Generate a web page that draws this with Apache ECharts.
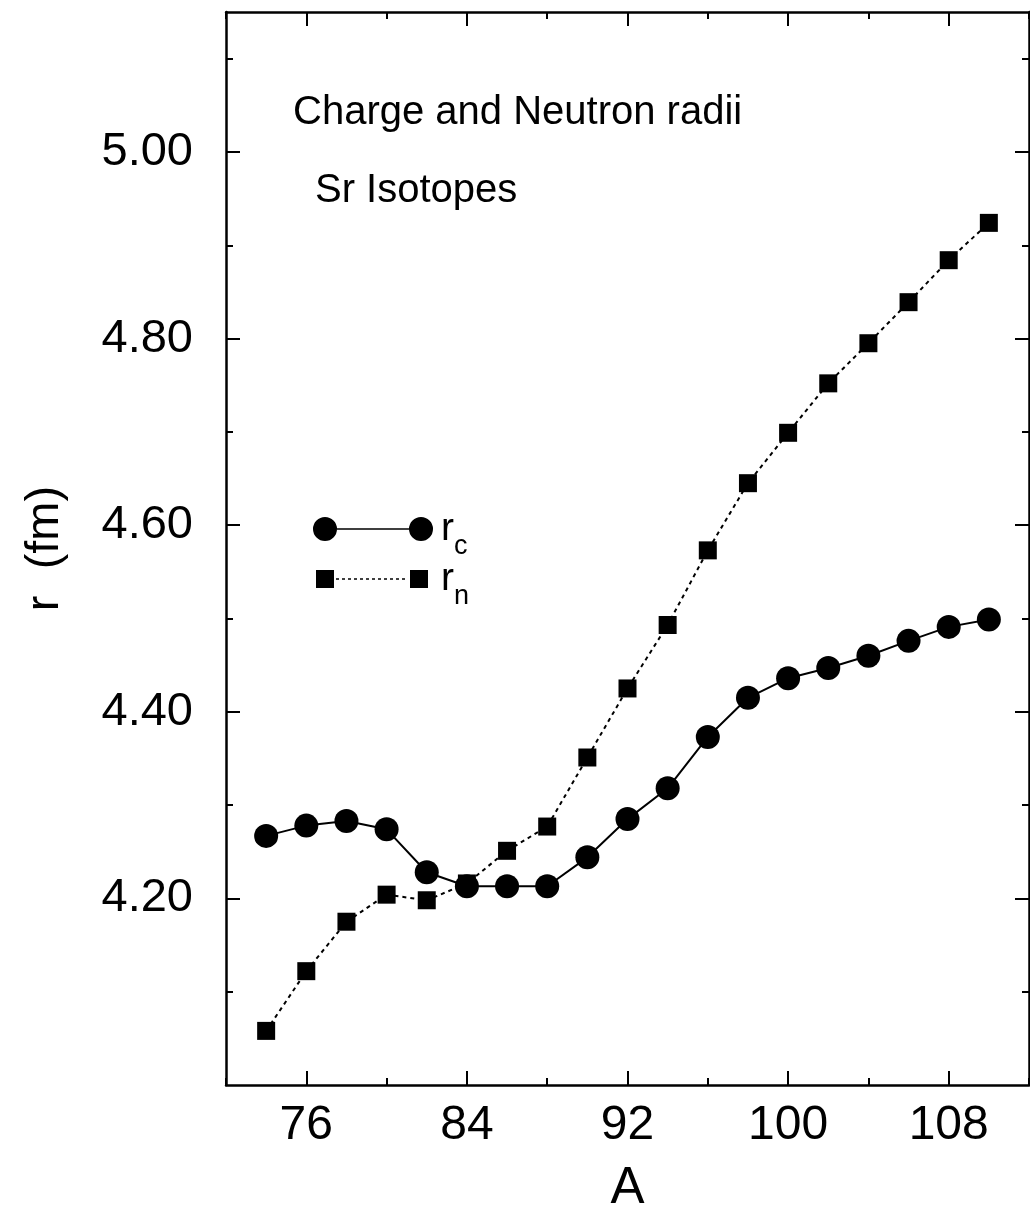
<!DOCTYPE html>
<html><head><meta charset="utf-8">
<script src="https://cdn.jsdelivr.net/npm/echarts@6/dist/echarts.min.js"></script>
<style>html,body{margin:0;padding:0;background:#fff}#c{width:1030px;height:1214px}</style>
</head><body><div id="c"></div>
<script>
// ---- data ----
const massNumbers = [74, 76, 78, 80, 82, 84, 86, 88, 90, 92, 94, 96, 98, 100, 102, 104, 106, 108, 110];
const chargeRadii = [4.267, 4.278, 4.283, 4.274, 4.228, 4.213, 4.213, 4.213, 4.244, 4.285, 4.318, 4.373, 4.415, 4.436, 4.447, 4.460, 4.476, 4.491, 4.499];
const neutronRadii = [4.058, 4.122, 4.175, 4.204, 4.198, 4.216, 4.251, 4.277, 4.351, 4.425, 4.493, 4.573, 4.645, 4.699, 4.752, 4.795, 4.839, 4.884, 4.924];
const xMajorTicks = [76, 84, 92, 100, 108];
const xMinorTicks = [72, 76, 80, 84, 88, 92, 96, 100, 104, 108, 112];
const yMajorTicks = [4.2, 4.4, 4.6, 4.8, 5.0];
const yMinorTicks = [4.1, 4.2, 4.3, 4.4, 4.5, 4.6, 4.7, 4.8, 4.9, 5.0, 5.1];
const titleLines = ['Charge and Neutron radii', 'Sr Isotopes'];
const seriesNames = ['rc', 'rn'];
const xName = 'A';
const yName = 'r  (fm)';

const FONT = '"Liberation Sans", Arial, Helvetica, sans-serif';
const BLACK = '#000';
const X_MIN = 72, X_MAX = 112, Y_MIN = 4.0, Y_MAX = 5.15;

function xAxisDef(position, ticks, len, withLine, withLabels) {
  const ax = {
    type: 'value', position: position, min: X_MIN, max: X_MAX,
    axisLine: { show: withLine, onZero: false, lineStyle: { color: BLACK, width: 2.5 } },
    axisTick: { show: true, inside: true, length: len, customValues: ticks, lineStyle: { color: BLACK, width: 2 } },
    axisLabel: { show: withLabels, customValues: ticks, fontSize: 48, color: BLACK, fontFamily: FONT, margin: 17 },
    splitLine: { show: false }
  };
  if (withLabels) {
    ax.name = xName; ax.nameLocation = 'middle'; ax.nameGap = 78;
    ax.nameTextStyle = { fontSize: 51, color: BLACK, fontFamily: FONT };
  }
  return ax;
}
function yAxisDef(position, ticks, len, withLine, withLabels) {
  const ax = {
    type: 'value', position: position, min: Y_MIN, max: Y_MAX,
    axisLine: { show: withLine, onZero: false, lineStyle: { color: BLACK, width: 2.5 } },
    axisTick: { show: true, inside: true, length: len, customValues: ticks, lineStyle: { color: BLACK, width: 2 } },
    axisLabel: { show: withLabels, customValues: ticks, fontSize: 47, color: BLACK, fontFamily: FONT, margin: 33,
      formatter: v => v.toFixed(2) },
    splitLine: { show: false }
  };
  if (withLabels) {
    ax.name = yName; ax.nameLocation = 'middle'; ax.nameGap = 157; ax.nameRotate = 90;
    ax.nameTextStyle = { fontSize: 47, color: BLACK, fontFamily: FONT };
  }
  return ax;
}

const CIRCLE_ICON = 'path://M0,12A12,12,0,1,1,24,12A12,12,0,1,1,0,12Z M96,12A12,12,0,1,1,120,12A12,12,0,1,1,96,12Z M24,11.2L96,11.2L96,12.8L24,12.8Z';
let sq = 'path://M0,0L18,0L18,18L0,18Z M94,0L112,0L112,18L94,18Z';
for (let s = 20; s + 3 <= 93; s += 6) sq += ' M' + s + ',8.2L' + (s + 3) + ',8.2L' + (s + 3) + ',9.8L' + s + ',9.8Z';
const SQUARE_ICON = sq;

function richStyle(padLeft) {
  return {
    a: { fontSize: 39, lineHeight: 80, color: BLACK, fontFamily: FONT, padding: [0, 0, 0, padLeft] },
    b: { fontSize: 27, lineHeight: 27, color: BLACK, fontFamily: FONT, verticalAlign: 'top', padding: [44, 0, 0, 0] }
  };
}

const chart = echarts.init(document.getElementById('c'), null, { renderer: 'canvas' });
chart.setOption({
  animation: false,
  backgroundColor: '#fff',
  title: [
    { text: titleLines[0], left: 293, top: 93, padding: 0, textStyle: { fontSize: 40, fontWeight: 'normal', color: BLACK, fontFamily: FONT } },
    { text: titleLines[1], left: 315, top: 171, padding: 0, textStyle: { fontSize: 40, fontWeight: 'normal', color: BLACK, fontFamily: FONT } }
  ],
  grid: { left: 226, top: 12, width: 803, height: 1073, containLabel: false, outerBoundsMode: 'none' },
  legend: [
    { data: [{ name: seriesNames[0], icon: CIRCLE_ICON }], left: 313, top: 489, padding: 0, itemWidth: 120, itemHeight: 24,
      selectedMode: false, formatter: () => '{a|r}{b|c}', textStyle: { rich: richStyle(3) } },
    { data: [{ name: seriesNames[1], icon: SQUARE_ICON }], left: 316, top: 539, padding: 0, itemWidth: 112, itemHeight: 18,
      selectedMode: false, formatter: () => '{a|r}{b|n}', textStyle: { rich: richStyle(8) } }
  ],
  xAxis: [
    xAxisDef('bottom', xMajorTicks, 14, true, true),
    xAxisDef('bottom', xMinorTicks, 7, false, false),
    xAxisDef('top', xMajorTicks, 14, true, false),
    xAxisDef('top', xMinorTicks, 7, false, false)
  ],
  yAxis: [
    yAxisDef('left', yMajorTicks, 14, true, true),
    yAxisDef('left', yMinorTicks, 7, false, false),
    yAxisDef('right', yMajorTicks, 14, true, false),
    yAxisDef('right', yMinorTicks, 7, false, false)
  ],
  series: [
    { name: seriesNames[1], type: 'line', xAxisIndex: 0, yAxisIndex: 0,
      data: massNumbers.map((a, i) => [a, neutronRadii[i]]),
      symbol: 'rect', symbolSize: 18, itemStyle: { color: BLACK },
      lineStyle: { color: BLACK, width: 2, type: [4, 4] }, z: 2 },
    { name: seriesNames[0], type: 'line', xAxisIndex: 0, yAxisIndex: 0,
      data: massNumbers.map((a, i) => [a, chargeRadii[i]]),
      symbol: 'circle', symbolSize: 24, itemStyle: { color: BLACK },
      lineStyle: { color: BLACK, width: 2 }, z: 3 }
  ]
});
</script></body></html>
